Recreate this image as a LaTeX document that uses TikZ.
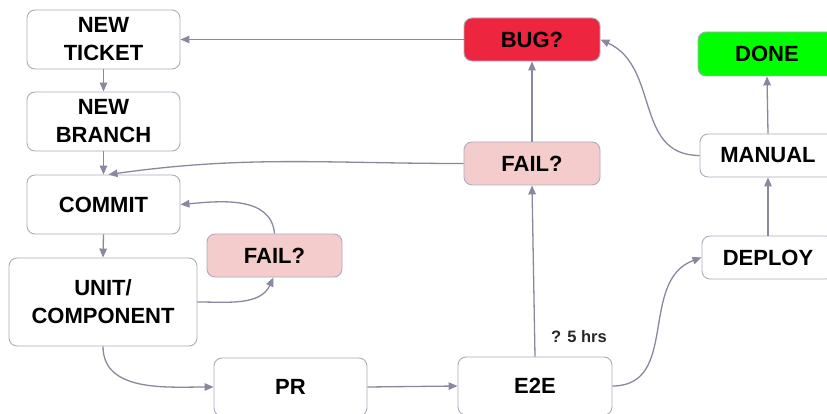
\documentclass[tikz,border=0pt]{standalone}
\usepackage{fontspec}
\setmainfont{Liberation Sans}
\usetikzlibrary{arrows.meta}
\definecolor{edgec}{HTML}{8A889F}
\definecolor{borderc}{HTML}{ADABBE}
\definecolor{bugred}{HTML}{EE253E}
\definecolor{failpink}{HTML}{F4CCCC}
\definecolor{donegreen}{HTML}{00FF00}
\tikzset{
  box/.style={draw=borderc, line width=0.9pt, rounded corners=8pt, fill=white,
    inner sep=0pt, align=center, font=\fontsize{22}{28}\selectfont\bfseries},
  flow/.style={draw=edgec, line width=1.3pt, -{Triangle[length=9pt,width=7.5pt]}},
}
\begin{document}
\begin{tikzpicture}[x=1pt,y=-1pt]
\useasboundingbox (0,0) rectangle (827,414);
\fill[white] (0,0) rectangle (827,414);
\clip (0,0) rectangle (827,414);
\node[box, minimum width=153pt, minimum height=59pt] (ticket) at (103.5,39.5) {NEW\\TICKET};
\node[box, minimum width=153pt, minimum height=59pt] (branch) at (103.5,121.5) {NEW\\BRANCH};
\node[box, minimum width=153pt, minimum height=59pt] (commit) at (103.5,204.5) {COMMIT};
\node[box, minimum width=188pt, minimum height=88pt] (unit) at (103,302) {UNIT/\\COMPONENT};
\node[box, fill=failpink, minimum width=135pt, minimum height=43pt] (fails) at (274.5,255.5) {FAIL?};
\node[box, minimum width=153pt, minimum height=58pt] (pr) at (290.5,387) {PR};
\node[box, minimum width=154pt, minimum height=58pt] (e2e) at (535,386) {E2E};
\node[box, fill=bugred, minimum width=136pt, minimum height=43pt] (bug) at (532,39.5) {BUG?};
\node[box, fill=failpink, minimum width=136pt, minimum height=43pt] (failb) at (532,163.5) {FAIL?};
\node[box, fill=donegreen, minimum width=138pt, minimum height=44pt] (done) at (767,54) {DONE};
\node[box, minimum width=136pt, minimum height=43pt] (manual) at (768,155.5) {MANUAL};
\node[box, minimum width=132pt, minimum height=43pt] (deploy) at (768,257.5) {DEPLOY};
\node[font=\fontsize{16.5}{18}\selectfont\bfseries, text=black!85] (hrs) at (579,337) {? 5 hrs};

\draw[flow] (bug.west) -- (ticket.east |- bug.west);
\draw[flow] (ticket.south) -- (branch.north);
\draw[flow] (branch.south) -- (commit.north);
\draw[flow] (failb.west) to[out=180,in=8] ([xshift=5pt]commit.north);
\draw[flow] (commit.south) -- (unit.north);
\draw[flow] ([yshift=0pt]unit.east) to[out=0,in=245] ([xshift=-1pt]fails.south);
\draw[flow] (fails.north) to[out=95,in=5] (commit.east);
\draw[flow] (unit.south) to[out=-90,in=180] (pr.west);
\draw[flow] (pr.east) -- (e2e.west);
\draw[flow] (e2e.north) -- (failb.south);
\draw[flow] (failb.north) -- (bug.south);
\draw[flow] (e2e.east) to[out=0,in=200,looseness=1.1] (deploy.west);
\draw[flow] (deploy.north) -- (manual.south);
\draw[flow] (manual.west) to[out=180,in=-25,looseness=1.1] (bug.east);
\draw[flow] (manual.north) -- (done.south);
\end{tikzpicture}
\end{document}
